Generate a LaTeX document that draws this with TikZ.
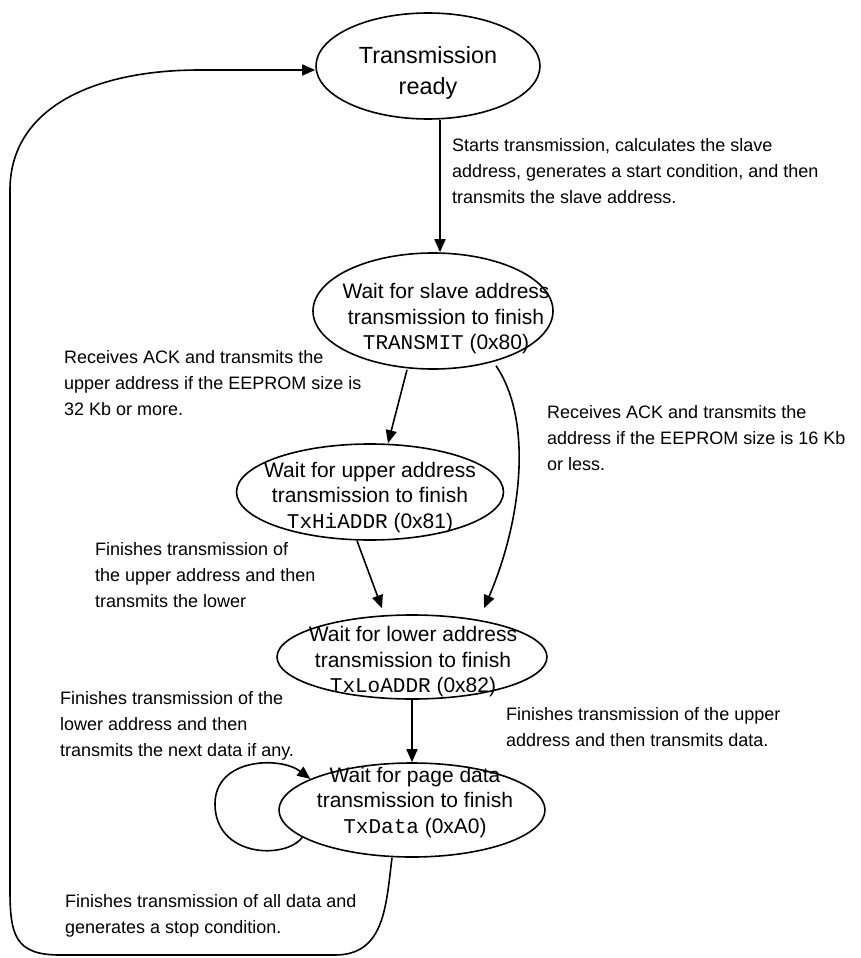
\documentclass[tikz,border=0pt]{standalone}
\usepackage{fontspec}
\setmainfont{Liberation Sans}
\newfontfamily\mono{Liberation Mono}
\usetikzlibrary{shapes.geometric,arrows.meta}

\tikzset{
  state/.style={draw, ellipse, line width=1.6pt, inner sep=0pt},
  stxt/.style={align=center, inner sep=0pt, font=\fontsize{21}{25.5}\selectfont},
  note/.style={align=left, anchor=north west, inner sep=0pt, font=\fontsize{18}{26}\selectfont},
  arr/.style={line width=1.6pt, -{Triangle[length=13pt,width=11pt]}},
}

\begin{document}
\begin{tikzpicture}[x=1pt,y=-1pt]
\useasboundingbox (0,0) rectangle (860,958);

% states
\node[state, minimum width=224pt, minimum height=106pt] (tr) at (428,66) {};
\node[stxt, font=\fontsize{23.4}{31}\selectfont] (trT) at (428,73) {Transmission\\ready};

\node[state, minimum width=240pt, minimum height=116pt] (slave) at (433,311) {};
\node[stxt] (slaveT) at (446,319) {Wait for slave address\\transmission to finish\\{\mono TRANSMIT} (0x80)};

\node[state, minimum width=267pt, minimum height=96pt] (upper) at (370,492) {};
\node[stxt] (upperT) at (370,497.5) {Wait for upper address\\transmission to finish\\{\mono TxHiADDR} (0x81)};

\node[state, minimum width=270pt, minimum height=84pt] (lower) at (412,657) {};
\node[stxt] (lowerT) at (413,662) {Wait for lower address\\transmission to finish\\{\mono TxLoADDR} (0x82)};

\node[state, minimum width=266pt, minimum height=94pt] (page) at (412,810) {};
\node[stxt] (pageT) at (415,802.5) {Wait for page data\\transmission to finish\\{\mono TxData} (0xA0)};

% transitions
\draw[arr] ([xshift=12pt]tr.south) -- ([xshift=7pt]slave.north);
\draw[arr] ([xshift=-26pt]slave.south) -- ([xshift=18pt]upper.north);
\draw[arr] ([xshift=63pt,yshift=4pt]slave.south) .. controls (533,420) and (522,520) .. ([xshift=72pt,yshift=6pt]lower.north);
\draw[arr] ([xshift=-13pt]upper.south) -- ([xshift=-30pt,yshift=6pt]lower.north);
\draw[arr] (lower.south) -- (page.north);

% self loop on the page-data state
\coordinate (loopL) at (215,804);
\draw[arr] (page.194) .. controls (285,860) and (215,857) .. (loopL)
  .. controls (215,758) and (280,756) .. (page.163);

% return to the ready state
\coordinate (retTop) at (200,70);
\draw[arr] ([xshift=-20pt]page.south) .. controls (386,905) and (385,955) .. (335,955)
  -- (60,955) .. controls (15,955) and (10,935) .. (10,890)
  -- (10,190) .. controls (10,110) and (90,70) .. (retTop) -- ([yshift=-4pt]tr.west);

% transition notes
\node[note] (n1) at (452,138) {Starts transmission, calculates the slave\\address, generates a start condition, and then\\transmits the slave address.};
\node[note] (n2) at (64,350) {Receives ACK and transmits the\\upper address if the EEPROM size is\\32 Kb or more.};
\node[note] (n3) at (547,405) {Receives ACK and transmits the\\address if the EEPROM size is 16 Kb\\or less.};
\node[note] (n4) at (95,542) {Finishes transmission of\\the upper address and then\\transmits the lower};
\node[note] (n5) at (60,691) {Finishes transmission of the\\lower address and then\\transmits the next data if any.};
\node[note] (n6) at (506,707) {Finishes transmission of the upper\\address and then transmits data.};
\node[note] (n7) at (65,894) {Finishes transmission of all data and\\generates a stop condition.};
\end{tikzpicture}
\end{document}
